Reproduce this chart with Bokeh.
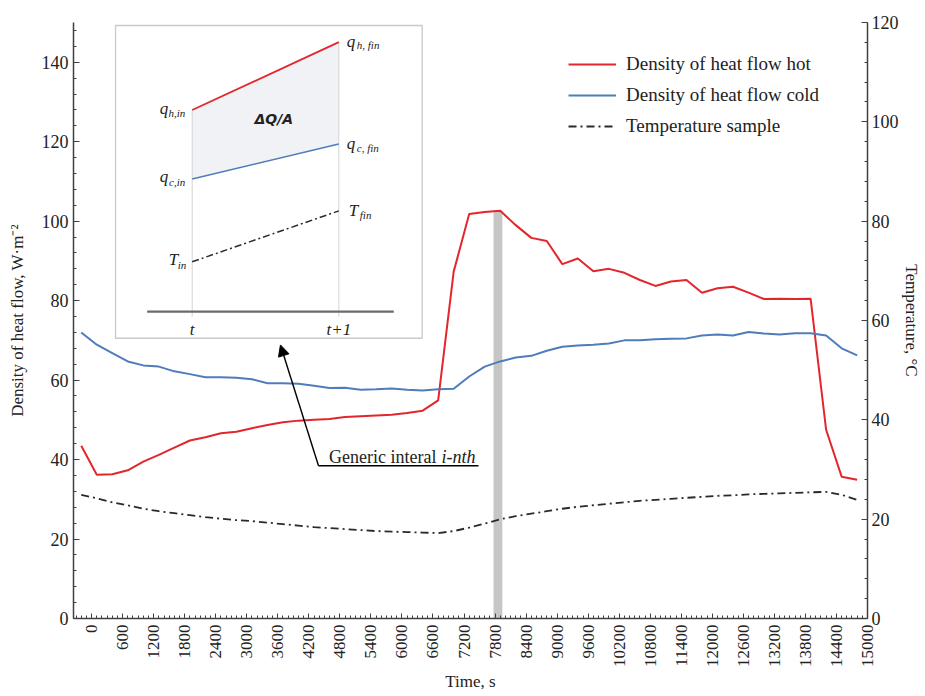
import math
from bokeh.plotting import figure
from bokeh.models import (Range1d, LinearAxis, FixedTicker, SingleIntervalTicker,
                          Arrow, NormalHead)
from bokeh.core.properties import value
from bokeh.embed import file_html
from bokeh.resources import INLINE

# ---------------- data ----------------
time_s = [-200, 100, 400, 700, 1000, 1300, 1600, 1900, 2200, 2500, 2800, 3100,
          3400, 3700, 4000, 4300, 4600, 4900, 5200, 5500, 5800, 6100, 6400, 6700,
          7000, 7300, 7600, 7900, 8200, 8500, 8800, 9100, 9400, 9700, 10000, 10300,
          10600, 10900, 11200, 11500, 11800, 12100, 12400, 12700, 13000, 13300,
          13600, 13900, 14200, 14500, 14800]

q_hot = [43.5, 36.2, 36.3, 37.3, 39.5, 41.2, 43.0, 44.8, 45.6, 46.6, 47.0, 47.9,
         48.7, 49.4, 49.8, 50.0, 50.2, 50.7, 50.9, 51.1, 51.3, 51.7, 52.3, 54.9,
         87.3, 101.8, 102.3, 102.6, 99.0, 95.8, 95.0, 89.2, 90.6, 87.4, 88.0, 87.0,
         85.2, 83.7, 84.8, 85.2, 82.0, 83.1, 83.5, 82.0, 80.4, 80.5, 80.4, 80.5,
         47.5, 35.7, 34.9]

q_cold = [72.0, 68.9, 66.8, 64.7, 63.7, 63.4, 62.2, 61.5, 60.7, 60.7, 60.6, 60.2,
          59.2, 59.2, 59.1, 58.6, 58.0, 58.1, 57.6, 57.7, 57.9, 57.6, 57.4, 57.7,
          57.8, 60.9, 63.4, 64.7, 65.7, 66.1, 67.4, 68.4, 68.7, 68.9, 69.2, 70.0,
          70.0, 70.3, 70.4, 70.5, 71.2, 71.5, 71.2, 72.1, 71.7, 71.5, 71.8, 71.8,
          71.2, 68.0, 66.2]

temp_c = [24.9, 24.2, 23.4, 22.8, 22.1, 21.6, 21.2, 20.8, 20.4, 20.1, 19.8, 19.6,
          19.3, 19.0, 18.7, 18.4, 18.2, 18.0, 17.8, 17.6, 17.5, 17.4, 17.3, 17.2,
          17.6, 18.3, 19.1, 20.0, 20.6, 21.1, 21.6, 22.1, 22.5, 22.8, 23.1, 23.4,
          23.7, 23.9, 24.1, 24.3, 24.5, 24.7, 24.8, 25.0, 25.1, 25.2, 25.3, 25.4,
          25.5, 24.9, 23.9]

x_ticks = [0, 600, 1200, 1800, 2400, 3000, 3600, 4200, 4800, 5400, 6000, 6600,
           7200, 7800, 8400, 9000, 9600, 10200, 10800, 11400, 12000, 12600, 13200,
           13800, 14400, 15000]
x_tick_labels = ["0", "600", "1200", "1800", "2400", "3000", "3600", "4200", "4800",
                 "5400", "6000", "6600", "7200", "7800", "8400", "9000", "9600",
                 "10200", "10800", "11400", "12000", "12600", "13200", "13800",
                 "14400", "15000"]

# highlighted interval (grey band)
band_left = [7770]
band_right = [7940]
band_top = [102.6]

# schematic inset: interval t .. t+1
inset_x = [0, 1]
inset_x_labels = ["t", "t+1"]
inset_qh = [2.02, 2.70]
inset_qc = [1.33, 1.68]
inset_T = [0.50, 1.01]

# ---------------- styling ----------------
SERIF = "Liberation Serif"
RED = "#e3262b"
BLUE = "#4f7cba"
DARK = "#2a2a2a"
AXIS = "#404040"

p = figure(width=925, height=694, output_backend="svg", toolbar_location=None,
           x_range=Range1d(-350, 15000), y_range=Range1d(0, 150),
           min_border_left=73, min_border_right=58, min_border_top=22,
           min_border_bottom=75)
p.xgrid.visible = False
p.ygrid.visible = False
p.outline_line_color = None
p.background_fill_color = "white"

p.extra_y_ranges = {"temp": Range1d(0, 120), "iy": Range1d(-3.073, 2.897)}
p.extra_x_ranges = {"ix": Range1d(-0.8097, 4.6065)}

# x axis
xa = p.xaxis[0]
xa.ticker = FixedTicker(ticks=x_ticks, minor_ticks=list(range(-300, 15001, 100)))
xa.major_label_overrides = {t: l for t, l in zip(x_ticks, x_tick_labels)}
xa.major_label_orientation = math.pi / 2
xa.axis_label = "Time, s"
xa.major_label_text_font_size = "17px"
xa.major_label_standoff = 6
xa.axis_label_standoff = 2

# left axis
ya = p.yaxis[0]
ya.ticker = SingleIntervalTicker(interval=20, num_minor_ticks=5)
ya.axis_label = "Density of heat flow, W·m⁻²"
ya.major_label_text_font_size = "18px"
ya.major_label_standoff = 5
ya.axis_label_standoff = 12

# right axis
ra = LinearAxis(y_range_name="temp", axis_label="Temperature, °C",
                ticker=SingleIntervalTicker(interval=20, num_minor_ticks=5))
ra.major_label_text_font_size = "18px"
ra.major_label_standoff = 4
ra.axis_label_standoff = 0
p.add_layout(ra, "right")

for ax in [xa, ya, ra]:
    ax.major_label_text_font = SERIF
    ax.major_label_text_color = "#222222"
    ax.axis_label_text_font = SERIF
    ax.axis_label_text_font_style = "normal"
    ax.axis_label_text_font_size = "17px"
    ax.axis_label_text_color = "#222222"
    ax.axis_line_color = AXIS
    ax.axis_line_width = 1.5
    ax.major_tick_line_color = AXIS
    ax.minor_tick_line_color = AXIS
    ax.major_tick_in = 6
    ax.major_tick_out = 0
    ax.minor_tick_in = 3
    ax.minor_tick_out = 0
xa.major_tick_in = 5

# grey band
p.quad(left=band_left, right=band_right, bottom=[0], top=band_top,
       fill_color="#c6c6c6", line_color=None)

# series
p.line(time_s, q_hot, line_color=RED, line_width=2, legend_label="Density of heat flow hot")
p.line(time_s, q_cold, line_color=BLUE, line_width=2, legend_label="Density of heat flow cold")
p.line(time_s, temp_c, y_range_name="temp", line_color=DARK, line_width=1.8,
       line_dash="8 4 2 4", legend_label="Temperature sample")

lg = p.legend[0]
lg.location = (495, 481)
lg.border_line_color = None
lg.background_fill_alpha = 0
lg.padding = 0
lg.margin = 0
lg.spacing = 9
lg.glyph_height = 20
lg.glyph_width = 48
lg.label_height = 20
lg.label_standoff = 10
lg.label_text_font = SERIF
lg.label_text_font_size = "19px"
lg.label_text_color = "#222222"

# ---------------- inset schematic ----------------
IR = dict(x_range_name="ix", y_range_name="iy")
p.quad(left=[-0.523], right=[1.569], bottom=[-0.266], top=[2.867],
       fill_color="white", line_color="#c9c9c9", line_width=1.3, **IR)
p.varea(x=inset_x, y1=inset_qc, y2=inset_qh, fill_color="#f1f2f6", **IR)
p.segment(x0=inset_x, y0=[-0.05, -0.05], x1=inset_x, y1=inset_qh,
          line_color="#d4d4d4", line_width=1, **IR)
p.line([-0.307, 1.375], [0, 0], line_color="#6a6a6a", line_width=2.2, **IR)
p.line(inset_x, inset_qh, line_color=RED, line_width=1.8, **IR)
p.line(inset_x, inset_qc, line_color=BLUE, line_width=1.6, **IR)
p.line(inset_x, inset_T, line_color=DARK, line_width=1.5, line_dash="7 3 2 3", **IR)

def tlabel(x, y, txt, align, xoff=0, yoff=0, size="16px", style="italic",
           font=SERIF, baseline="middle"):
    p.text(x=[x], y=[y], text=[txt], text_align=align, text_baseline=baseline,
           x_offset=xoff, y_offset=yoff, text_font=value(font),
           text_font_size=size, text_font_style=style, text_color="#222222", **IR)

# left end labels
tlabel(inset_x[0], inset_qh[0], "q", "right", xoff=-24, yoff=-2, size="17px")
tlabel(inset_x[0], inset_qh[0], "h,in", "right", xoff=-7, yoff=3, size="11px")
tlabel(inset_x[0], inset_qc[0], "q", "right", xoff=-24, yoff=-2, size="17px")
tlabel(inset_x[0], inset_qc[0], "c,in", "right", xoff=-7, yoff=3, size="11px")
tlabel(inset_x[0], inset_T[0], "T", "right", xoff=-14, yoff=-2, size="17px")
tlabel(inset_x[0], inset_T[0], "in", "right", xoff=-6, yoff=3, size="11px")
# right end labels
tlabel(inset_x[1], inset_qh[1], "q", "left", xoff=8, yoff=-1, size="17px")
tlabel(inset_x[1], inset_qh[1], "h, fin", "left", xoff=18, yoff=3, size="11px")
tlabel(inset_x[1], inset_qc[1], "q", "left", xoff=8, yoff=0, size="17px")
tlabel(inset_x[1], inset_qc[1], "c, fin", "left", xoff=18, yoff=4, size="11px")
tlabel(inset_x[1], inset_T[1], "T", "left", xoff=10, yoff=0, size="17px")
tlabel(inset_x[1], inset_T[1], "fin", "left", xoff=21, yoff=4, size="11px")
# interval labels
tlabel(inset_x[0], -0.183, inset_x_labels[0], "center", size="17px")
tlabel(inset_x[1], -0.183, inset_x_labels[1], "center", size="17px")
tlabel(0.557, 1.934, "ΔQ/A", "center", size="14px", style="bold italic",
       font="DejaVu Sans")

# callout
p.add_layout(Arrow(end=NormalHead(size=11, fill_color="black", line_color="black"),
                   x_start=0.8615, y_start=-1.543, x_end=0.602, y_end=-0.333,
                   line_color="black", line_width=1.4, **IR))
p.line([0.8615, 1.953], [-1.543, -1.543], line_color="black", line_width=1.4, **IR)
tlabel(1.6665, -1.46, "Generic interal", "right", size="18px", style="normal",
       baseline="alphabetic")
tlabel(1.700, -1.46, "i-nth", "left", size="18px", style="italic",
       baseline="alphabetic")

open("out.html", "w").write(file_html(p, INLINE))
